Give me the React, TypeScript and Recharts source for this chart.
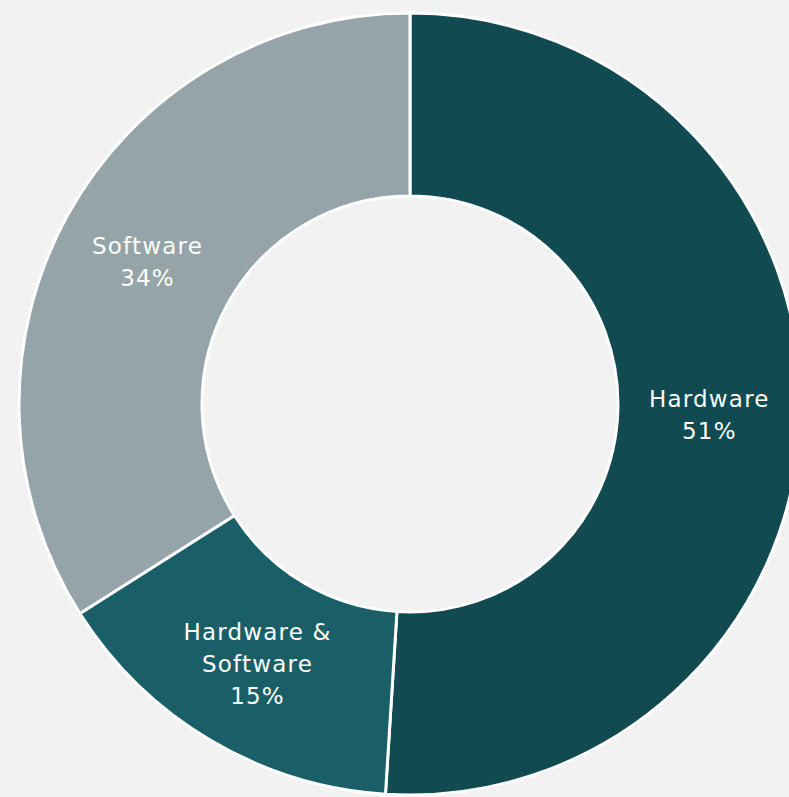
import React from 'react';
import { PieChart, Pie, Cell } from 'recharts';

const categories = ['Hardware', 'Hardware &\nSoftware', 'Software'];
const shares = [51, 15, 34];
const colors = ['#114a50', '#1a5f68', '#94a4a8'];

const data = categories.map((name, i) => ({ name, value: shares[i] }));

const RADIAN = Math.PI / 180;

function renderLabel(props: any) {
  const { cx, cy, midAngle, innerRadius, outerRadius, index } = props;
  const r = (innerRadius + outerRadius) / 2;
  const x = cx + r * Math.cos(-midAngle * RADIAN);
  const y = cy + r * Math.sin(-midAngle * RADIAN);
  const lines = [...categories[index].split('\n'), `${shares[index]}%`];
  const lineH = 32;
  const top = y + 2 - ((lines.length - 1) * lineH) / 2;
  return (
    <text
      x={x}
      y={top}
      fill="#ffffff"
      textAnchor="middle"
      dominantBaseline="central"
      fontFamily="'DejaVu Sans', sans-serif"
      fontSize={23}
      letterSpacing={1.2}
    >
      {lines.map((l, i) => (
        <tspan key={i} x={x} y={top + i * lineH}>
          {l}
        </tspan>
      ))}
    </text>
  );
}

export default function App() {
  return (
    <div style={{ position: 'absolute', left: 0, top: 0, width: 789, height: 797, background: '#f2f2f2', overflow: 'hidden' }}>
      <PieChart width={789} height={797} margin={{ top: 0, right: 0, bottom: 0, left: 0 }}>
        <Pie
          data={data}
          dataKey="value"
          nameKey="name"
          cx={410}
          cy={404}
          innerRadius={208}
          outerRadius={391}
          startAngle={90}
          endAngle={-270}
          stroke="#ffffff"
          strokeWidth={3}
          label={renderLabel}
          labelLine={false}
          isAnimationActive={false}
        >
          {data.map((d, i) => (
            <Cell key={d.name} fill={colors[i]} />
          ))}
        </Pie>
      </PieChart>
    </div>
  );
}
